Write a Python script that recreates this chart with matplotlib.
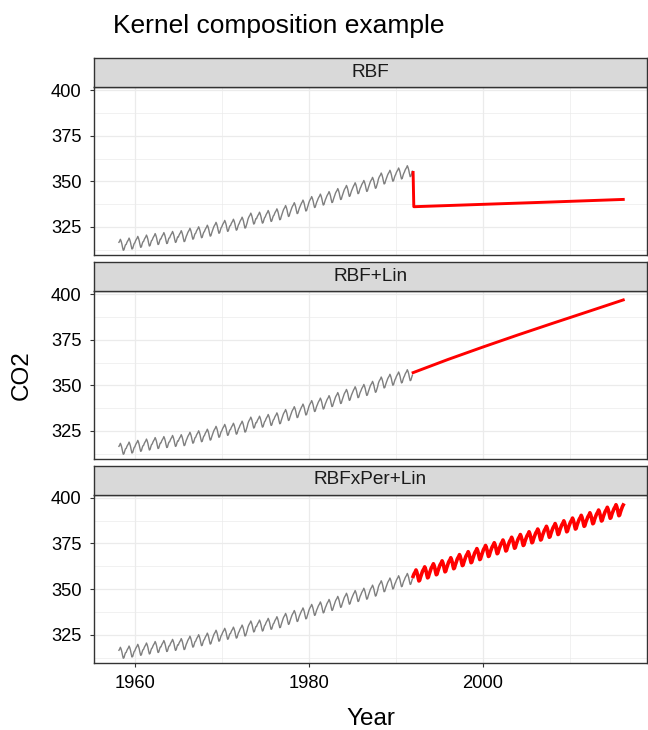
import matplotlib
matplotlib.use("Agg")
import matplotlib.pyplot as plt
from matplotlib.ticker import FixedLocator

plt.rcParams['font.family'] = ['Liberation Sans', 'DejaVu Sans']

# ---------------- data ----------------
panel_titles = ["RBF", "RBF+Lin", "RBFxPer+Lin"]

# observed CO2 (annual levels + monthly seasonal offsets), Mar 1958 .. Dec 1991
obs_years = list(range(1958, 1992))
obs_annual_mean = [315.3, 315.98, 316.91, 317.64, 318.45, 318.99, 319.62, 320.04,
                   321.37, 322.18, 323.05, 324.62, 325.68, 326.32, 327.46, 329.68,
                   330.19, 331.13, 332.03, 333.84, 335.41, 336.84, 338.76, 340.12,
                   341.48, 343.15, 344.87, 346.35, 347.61, 349.31, 351.69, 353.20,
                   354.45, 355.70]
seasonal_offset = [-0.6, 0.5, 1.26, 1.88, 2.9, 1.93, 0.49, -1.5, -3.11, -2.8, -1.34, -0.12]
obs_first_month = 3
obs_last_month = 12

# RBF prediction
rbf_x = [1992.0, 1992.08, 2000.0, 2008.0, 2016.17]
rbf_y = [354.9, 336.1, 337.4, 338.7, 340.1]

# RBF+Lin prediction
lin_x = [1992.0, 1996.0, 2000.0, 2004.0, 2008.0, 2012.0, 2016.17]
lin_y = [357.0, 364.2, 371.0, 377.6, 384.0, 390.3, 396.9]

# RBFxPer+Lin prediction (annual levels, Jan 1992 .. Mar 2016)
per_years = list(range(1992, 2017))
per_annual_mean = [357.6, 359.3, 361.0, 362.6, 364.3, 366.0, 367.6, 369.3, 371.0,
                   372.5, 374.0, 375.5, 377.0, 378.5, 380.0, 381.5, 383.0, 384.5,
                   386.0, 387.5, 388.9, 390.4, 391.9, 393.3, 394.8]
per_first_month = 1
per_last_month = 3

x_major = [1960, 1980, 2000]
x_minor = [1970, 1990, 2010]
y_major = [325, 350, 375, 400]
y_minor = [312.5, 337.5, 362.5, 387.5]


def monthly(years, means, first_month, last_month):
    t, v = [], []
    n = len(years)
    for i, (yr, mv) in enumerate(zip(years, means)):
        for k in range(12):
            if i == 0 and k + 1 < first_month:
                continue
            if i == n - 1 and k + 1 > last_month:
                continue
            t.append(yr + k / 12.0)
            v.append(mv + seasonal_offset[k])
    return t, v


obs_t, obs_v = monthly(obs_years, obs_annual_mean, obs_first_month, obs_last_month)
per_t, per_v = monthly(per_years, per_annual_mean, per_first_month, per_last_month)
preds = [(rbf_x, rbf_y), (lin_x, lin_y), (per_t, per_v)]
pred_lw = [2.1, 2.1, 2.6]

# ---------------- layout ----------------
W, H = 648, 730
fig = plt.figure(figsize=(W / 100, H / 100), dpi=100)
fig.patch.set_facecolor("white")

left_px, right_px = 94, 647
panels_px = [(87, 255), (291, 459), (494.5, 663)]
strip_h = 29

dark = "#333333"
for i, (top, bot) in enumerate(panels_px):
    ax = fig.add_axes([left_px / W, 1 - bot / H, (right_px - left_px) / W, (bot - top) / H])
    ax.set_facecolor("white")
    ax.plot(obs_t, obs_v, color="#7F7F7F", lw=1.0, zorder=3)
    px, py = preds[i]
    ax.plot(px, py, color="#FF0000", lw=pred_lw[i], zorder=4, solid_joinstyle="round")
    ax.set_xlim(1955.3, 2018.9)
    ax.set_ylim(309.6, 401.8)
    ax.xaxis.set_major_locator(FixedLocator(x_major))
    ax.xaxis.set_minor_locator(FixedLocator(x_minor))
    ax.yaxis.set_major_locator(FixedLocator(y_major))
    ax.yaxis.set_minor_locator(FixedLocator(y_minor))
    ax.grid(which="major", color="#EBEBEB", lw=0.9, zorder=0)
    ax.grid(which="minor", color="#EBEBEB", lw=0.5, zorder=0)
    ax.set_axisbelow(True)
    for s in ax.spines.values():
        s.set_color(dark)
        s.set_linewidth(1.0)
    ax.tick_params(which="minor", length=0)
    ax.tick_params(axis="y", which="major", direction="out", length=3, width=0.8,
                   color=dark, labelsize=13.2, labelcolor="black", pad=6)
    if i < 2:
        ax.tick_params(axis="x", which="major", bottom=False, labelbottom=False)
    else:
        ax.tick_params(axis="x", which="major", direction="out", length=3, width=0.8,
                       color=dark, labelsize=13.2, labelcolor="black", pad=6)

    # strip
    sax = fig.add_axes([left_px / W, 1 - top / H, (right_px - left_px) / W, strip_h / H])
    sax.set_facecolor("#D9D9D9")
    sax.set_xticks([])
    sax.set_yticks([])
    for s in sax.spines.values():
        s.set_color(dark)
        s.set_linewidth(1.0)
    sax.text(0.5, 0.5, panel_titles[i], ha="center", va="center",
             fontsize=13.7, color="#1A1A1A", transform=sax.transAxes)

fig.text(113 / W, 1 - 33 / H, "Kernel composition example", fontsize=19,
         ha="left", va="baseline", color="black")
fig.text((left_px + right_px) / 2 / W, 1 - 725 / H, "Year", fontsize=17.5,
         ha="center", va="baseline", color="black")
fig.text(22 / W, 1 - 375 / H, "CO2", fontsize=17.5, rotation=90,
         ha="center", va="center", color="black")

fig.savefig("out.png", dpi=100)
